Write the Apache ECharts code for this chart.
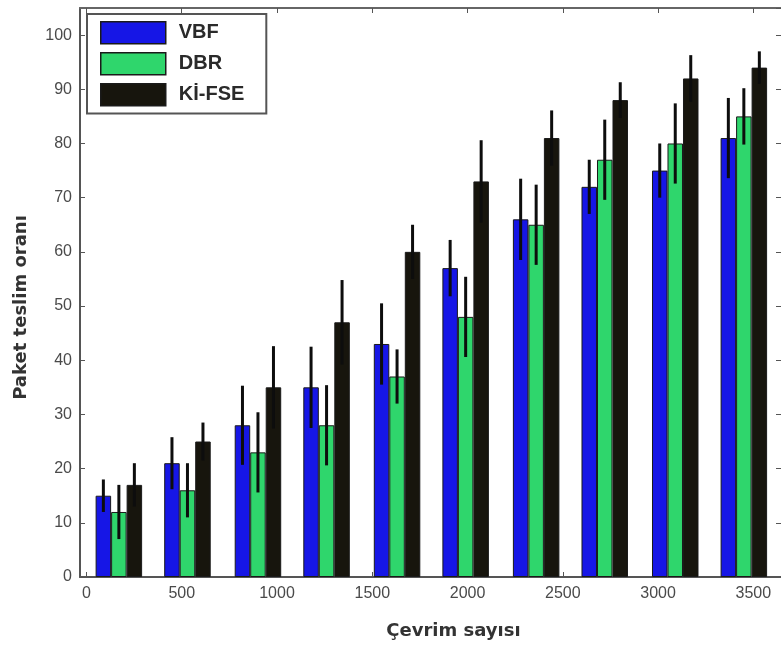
<!DOCTYPE html>
<html>
<head>
<meta charset="utf-8">
<script src="https://cdn.jsdelivr.net/npm/echarts@6/dist/echarts.min.js"></script>
<style>
  html, body { margin: 0; padding: 0; background: #fff; }
  #chart { width: 781px; height: 646px; }
</style>
</head>
<body>
<div id="chart"></div>
<script>
// group positions on the x axis (cycles)
const cycles = [170, 530, 900, 1260, 1630, 1990, 2360, 2720, 3090, 3450];
const xTicks = [0, 500, 1000, 1500, 2000, 2500, 3000, 3500];

// mean delivery ratio
const vbf   = [15, 21, 28, 35, 43, 57, 66, 72, 75, 81];
const dbr   = [12, 16, 23, 28, 37, 48, 65, 77, 80, 85];
const kifse = [17, 25, 35, 47, 60, 73, 81, 88, 92, 94];

// error (+/-)
const vbfErr   = [3, 4.8, 7.3, 7.5, 7.5, 5.2, 7.5, 5, 5, 7.4];
const dbrErr   = [5, 5, 7.4, 7.4, 5, 7.4, 7.4, 7.4, 7.4, 5.2];
const kifseErr = [4, 3.5, 7.6, 7.8, 5, 7.6, 5.1, 3.3, 4.3, 3];

const BAR_W = 15.5;

const chart = echarts.init(document.getElementById('chart'));

const barSeries = (name, vals, color) => ({
  name: name,
  type: 'bar',
  xAxisIndex: 0,
  yAxisIndex: 0,
  barWidth: BAR_W,
  barGap: '0%',
  itemStyle: { color: color, borderColor: '#1a1a1a', borderWidth: 1 },
  data: cycles.map((c, i) => [c, vals[i]])
});

const errSeries = (vals, errs, idx) => ({
  type: 'custom',
  xAxisIndex: 0,
  yAxisIndex: 0,
  silent: true,
  z: 5,
  renderItem: (params, api) => {
    const lo = api.coord([api.value(0), api.value(1)]);
    const hi = api.coord([api.value(0), api.value(2)]);
    const dx = (idx - 1) * BAR_W;
    return {
      type: 'line',
      shape: { x1: lo[0] + dx, y1: lo[1], x2: hi[0] + dx, y2: hi[1] },
      style: { stroke: '#0d0d0d', lineWidth: 3 }
    };
  },
  data: cycles.map((c, i) => [c, vals[i] - errs[i], vals[i] + errs[i]])
});

const axisFont = { fontFamily: 'Liberation Sans', fontSize: 16, color: '#4a4a4a' };
const nameFont = { fontFamily: 'DejaVu Sans', fontSize: 18, fontWeight: 'bold', color: '#333' };
const plain = (v) => String(v);

chart.setOption({
  animation: false,
  grid: { left: 80, top: 8, right: 0, bottom: 69, outerBoundsMode: 'none', containLabel: false },
  legend: {
    orient: 'vertical',
    left: 87,
    top: 14,
    padding: [7, 22, 7, 13],
    icon: 'rect',
    itemWidth: 65,
    itemHeight: 22,
    itemGap: 7.5,
    backgroundColor: '#fff',
    borderColor: '#555',
    borderWidth: 2,
    borderRadius: 0,
    itemStyle: { borderColor: '#1a1a1a', borderWidth: 1.5 },
    textStyle: { fontFamily: 'Liberation Sans', fontSize: 20, fontWeight: 'bold', color: '#2a2a2a', padding: [0, 0, 0, 8] },
    data: ['VBF', 'DBR', 'Kİ-FSE']
  },
  xAxis: [
    {
      type: 'value',
      min: -34,
      max: 3645,
      name: 'Çevrim sayısı',
      nameLocation: 'middle',
      nameGap: 45,
      nameTextStyle: Object.assign({ padding: [0, 0, 0, 46] }, nameFont),
      splitLine: { show: false },
      axisLine: { onZero: false, lineStyle: { color: '#555', width: 2 } },
      axisTick: { inside: true, length: 5, customValues: xTicks, lineStyle: { color: '#555' } },
      axisLabel: Object.assign({ customValues: xTicks, margin: 9, formatter: plain }, axisFont)
    },
    {
      type: 'value',
      position: 'top',
      min: -34,
      max: 3645,
      splitLine: { show: false },
      axisLine: { onZero: false, lineStyle: { color: '#666', width: 2 } },
      axisTick: { inside: true, length: 5, customValues: xTicks, lineStyle: { color: '#555' } },
      axisLabel: { show: false }
    }
  ],
  yAxis: [
    {
      type: 'value',
      min: 0,
      max: 105,
      interval: 10,
      name: 'Paket teslim oranı',
      nameLocation: 'middle',
      nameGap: 50,
      nameTextStyle: Object.assign({ padding: [0, 30, 0, 0] }, nameFont),
      splitLine: { show: false },
      axisLine: { show: true, onZero: false, lineStyle: { color: '#555', width: 2 } },
      axisTick: { show: true, inside: true, length: 5, lineStyle: { color: '#555' } },
      axisLabel: Object.assign({ margin: 8, showMaxLabel: false }, axisFont)
    },
    {
      type: 'value',
      position: 'right',
      min: 0,
      max: 105,
      interval: 10,
      splitLine: { show: false },
      axisLine: { show: false, onZero: false },
      axisTick: { show: true, inside: true, length: 5, lineStyle: { color: '#555' } },
      axisLabel: { show: false }
    }
  ],
  series: [
    barSeries('VBF', vbf, '#1616e6'),
    barSeries('DBR', dbr, '#2fd66c'),
    barSeries('Kİ-FSE', kifse, '#17150d'),
    errSeries(vbf, vbfErr, 0),
    errSeries(dbr, dbrErr, 1),
    errSeries(kifse, kifseErr, 2)
  ]
});
</script>
</body>
</html>
